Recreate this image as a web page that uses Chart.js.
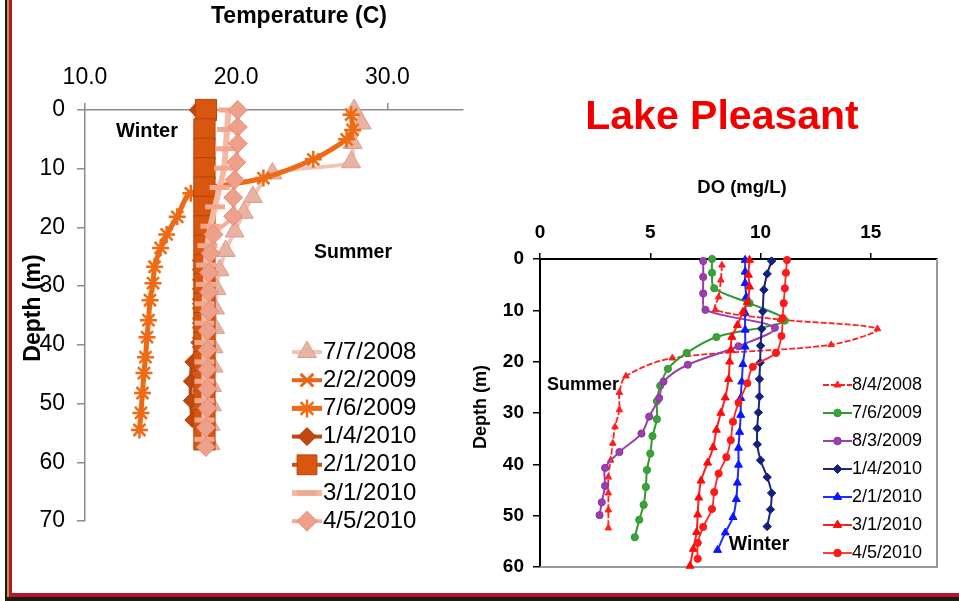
<!DOCTYPE html>
<html>
<head>
<meta charset="utf-8">
<title>Lake Pleasant profiles</title>
<script src="https://cdn.jsdelivr.net/npm/chart.js@4.4.1/dist/chart.umd.min.js"></script>
<style>
  html, body { margin: 0; padding: 0; background: #fff; }
  #page { position: relative; width: 959px; height: 601px; overflow: hidden; background: #fff; }
  #page canvas { position: absolute; left: 0; top: 0; }
  .edge { position: absolute; }
</style>
</head>
<body>
<div id="page">
  <canvas id="tempChart" width="959" height="601"></canvas>
  <canvas id="doChart" width="959" height="601"></canvas>
  <!-- slide frame -->
  <div class="edge" style="left:5px;top:0;width:2px;height:600px;background:#1d1a10;"></div>
  <div class="edge" style="left:7px;top:0;width:2px;height:597px;background:#b49a4a;"></div>
  <div class="edge" style="left:9px;top:0;width:3px;height:596px;background:#b8152f;"></div>
  <div class="edge" style="left:9px;top:593px;width:950px;height:4px;background:#b8152f;"></div>
  <div class="edge" style="left:5px;top:597px;width:954px;height:4px;background:#1d1a10;"></div>
</div>
<script>
// ---------- Temperature profiles (depth in m, temperature in C) ----------
const tempDates = ['7/7/2008', '2/2/2009', '7/6/2009', '1/4/2010', '2/1/2010', '3/1/2010', '4/5/2010'];

const tDepth_0708 = [0, 2.3, 5.6, 8.9, 10.8, 14.8, 17.5, 20.7, 24.0, 27.3, 30.5, 33.8, 37.1, 40.4, 43.7, 47.0, 50.3, 53.6, 56.9];
const tTemp_0708  = [27.8, 28.3, 27.7, 27.6, 22.4, 21.1, 20.5, 19.9, 19.3, 18.9, 18.7, 18.6, 18.6, 18.5, 18.5, 18.4, 18.4, 18.3, 18.3];

const tDepth_0209 = [0, 3.3, 6.6, 9.9, 13.2, 16.5, 19.8, 23.1, 26.4, 29.7, 33.0, 36.3, 39.6, 42.9, 46.2, 49.5, 52.8];
const tTemp_0209  = [17.6, 17.6, 17.6, 17.6, 17.6, 17.6, 17.6, 17.6, 17.5, 17.5, 17.5, 17.5, 17.5, 17.5, 17.5, 17.5, 17.5];

const tDepth_0709 = [0.8, 3.4, 5.0, 8.4, 11.6, 14.2, 18.2, 21.2, 23.5, 26.7, 29.5, 32.4, 35.8, 38.7, 42.1, 44.8, 48.2, 51.6, 54.5];
const tTemp_0709  = [27.6, 27.7, 27.3, 25.1, 21.8, 17.0, 16.1, 15.4, 15.0, 14.6, 14.5, 14.3, 14.2, 14.1, 14.0, 13.9, 13.8, 13.7, 13.6];

const tDepth_0110 = [0, 3.3, 6.6, 9.9, 13.2, 16.5, 19.8, 23.1, 26.4, 29.7, 33.0, 36.3, 39.6, 42.9, 46.2, 49.5, 52.8];
const tTemp_0110  = [17.4, 17.7, 17.7, 17.7, 17.7, 17.7, 17.7, 17.7, 17.7, 17.7, 17.6, 17.6, 17.5, 17.1, 17.0, 17.0, 17.1];

const tDepth_0210 = [0, 3.3, 6.6, 9.9, 13.2, 16.5, 19.8, 23.1, 26.4, 29.7, 33.0, 36.3, 39.6, 42.9, 46.2, 49.5, 52.8, 56.1];
const tTemp_0210  = [18.0, 17.9, 17.9, 17.9, 17.9, 17.9, 17.9, 17.9, 17.9, 17.9, 17.9, 17.9, 17.9, 17.9, 17.9, 17.9, 17.9, 17.9];

const tDepth_0310 = [0, 3.3, 6.6, 9.9, 13.2, 16.5, 19.8, 23.1, 26.4, 29.7, 33.0, 36.3, 39.6, 42.9, 46.2, 49.5, 52.8, 56.1];
const tTemp_0310  = [19.5, 19.4, 19.3, 19.2, 18.9, 18.6, 18.3, 18.1, 18.0, 18.0, 17.9, 17.9, 17.9, 17.9, 17.9, 17.9, 17.9, 17.9];

const tDepth_0410 = [0, 2.9, 5.7, 8.9, 11.9, 14.9, 18.1, 21.2, 24.4, 27.7, 31.0, 34.3, 37.6, 40.9, 44.2, 47.5, 50.8, 54.1, 57.4];
const tTemp_0410  = [20.1, 20.1, 20.1, 20.0, 19.9, 19.8, 19.8, 18.5, 18.3, 18.2, 18.2, 18.2, 18.1, 18.1, 18.1, 18.1, 18.1, 18.0, 18.0];

const tempTicks = [10, 20, 30];
const tempDepthTicks = [0, 10, 20, 30, 40, 50, 60, 70];

// ---------- Dissolved oxygen profiles (depth in m, DO in mg/L) ----------
const doDates = ['8/4/2008', '7/6/2009', '8/3/2009', '1/4/2010', '2/1/2010', '3/1/2010', '4/5/2010'];

const dDepth_0808 = [1.2, 4.1, 7.4, 9.9, 11.8, 13.6, 16.7, 19.3, 22.8, 26.0, 29.4, 32.7, 35.9, 39.2, 42.5, 45.6, 48.9, 52.4];
const dDO_0808    = [8.25, 8.2, 8.1, 7.95, 10.9, 15.3, 13.2, 6.0, 3.9, 3.6, 3.6, 3.4, 3.3, 3.2, 3.1, 3.1, 3.1, 3.1];

const dDepth_0709 = [0, 2.7, 5.7, 8.6, 12.0, 15.2, 18.3, 21.4, 24.7, 27.7, 31.2, 34.5, 37.9, 41.1, 44.4, 47.9, 50.8, 54.2];
const dDO_0709    = [7.8, 7.8, 7.9, 9.5, 11.1, 8.0, 6.65, 5.8, 5.45, 5.3, 5.3, 5.1, 5.0, 4.85, 4.8, 4.7, 4.5, 4.3];

const dDepth_0809 = [0.4, 3.5, 6.7, 9.9, 13.4, 17.0, 20.6, 23.9, 27.1, 30.7, 34.0, 37.6, 40.7, 44.2, 47.4, 49.9];
const dDO_0809    = [7.4, 7.4, 7.4, 7.5, 10.65, 9.0, 6.7, 5.6, 5.4, 4.95, 4.6, 3.6, 2.95, 2.95, 2.8, 2.7];

const dDepth_0110 = [0.4, 2.9, 6.0, 10.2, 13.6, 16.9, 20.2, 23.4, 26.8, 29.9, 33.0, 36.1, 39.2, 42.5, 45.6, 48.8, 52.1];
const dDO_0110    = [10.5, 10.3, 10.15, 10.1, 10.05, 10.0, 9.98, 9.95, 9.95, 9.9, 9.85, 9.85, 10.0, 10.3, 10.5, 10.45, 10.3];

const dDepth_0210 = [0.2, 2.5, 4.7, 7.4, 10.5, 13.8, 17.1, 20.5, 23.9, 27.1, 30.4, 33.7, 36.8, 40.1, 43.6, 46.8, 50.3, 53.3, 56.7];
const dDO_0210    = [9.3, 9.3, 9.3, 9.35, 9.3, 9.3, 9.3, 9.2, 9.15, 9.1, 9.1, 9.05, 9.0, 9.0, 8.95, 8.9, 8.75, 8.4, 8.05];

const dDepth_0310 = [0.2, 3.1, 5.4, 8.4, 10.3, 12.9, 15.2, 17.7, 20.0, 23.4, 27.0, 30.0, 33.3, 36.7, 39.7, 43.2, 46.5, 49.8, 53.2, 56.5, 59.8];
const dDO_0310    = [9.5, 9.45, 9.5, 9.4, 9.2, 8.95, 8.7, 8.65, 8.6, 8.55, 8.4, 8.2, 8.0, 7.85, 7.6, 7.3, 7.2, 7.15, 7.1, 6.95, 6.8];

const dDepth_0410 = [0.2, 2.7, 5.7, 8.6, 11.5, 15.0, 18.3, 21.0, 24.2, 28.0, 31.7, 35.3, 38.6, 41.8, 45.4, 48.7, 52.2, 55.3, 58.4];
const dDO_0410    = [11.2, 11.15, 11.1, 11.05, 11.0, 10.95, 10.7, 9.65, 9.4, 9.0, 8.75, 8.65, 8.45, 8.1, 7.9, 7.8, 7.4, 7.15, 7.15];

const doTicks = [0, 5, 10, 15];
const doDepthTicks = [0, 10, 20, 30, 40, 50, 60];

// ---------- helpers ----------
const FAMILY = '"Liberation Sans", Arial, Helvetica, sans-serif';
Chart.defaults.font.family = FAMILY;
Chart.defaults.color = '#000';

function profile(depths, values) {
  return depths.map((d, i) => ({ x: values[i], y: d }));
}

function buildDatasets(labels, profiles, styles, tension) {
  const n = labels.length;
  return labels.map((label, i) => {
    const s = styles[i];
    return {
      label: label,
      data: profile(profiles[i][0], profiles[i][1]),
      showLine: true,
      tension: tension,
      borderColor: s.line,
      borderWidth: s.lw,
      borderDash: s.dash || [],
      pointStyle: s.style,
      pointRadius: s.r,
      pointBackgroundColor: s.fill,
      pointBorderColor: s.edge,
      pointBorderWidth: s.pbw,
      legendRadius: s.lr || s.r,
      order: n - 1 - i,   // later dates are painted over earlier ones
      clip: false
    };
  });
}

// legend drawn beside the profiles, one row per dataset
const sideLegend = {
  id: 'sideLegend',
  afterDraw(chart, args, o) {
    if (!o || o.top === undefined) return;
    const ctx = chart.ctx;
    chart.data.datasets.forEach((ds, i) => {
      const y = o.top + i * o.rowGap;
      ctx.save();
      ctx.strokeStyle = ds.borderColor;
      ctx.lineWidth = ds.borderWidth;
      ctx.setLineDash(ds.borderDash || []);
      ctx.beginPath();
      ctx.moveTo(o.lineStart, y);
      ctx.lineTo(o.lineEnd, y);
      ctx.stroke();
      ctx.setLineDash([]);
      ctx.fillStyle = ds.pointBackgroundColor;
      ctx.strokeStyle = ds.pointBorderColor;
      ctx.lineWidth = ds.pointBorderWidth;
      Chart.helpers.drawPoint(ctx, {
        pointStyle: ds.pointStyle, radius: ds.legendRadius, rotation: 0, borderWidth: ds.pointBorderWidth
      }, (o.lineStart + o.lineEnd) / 2, y);
      ctx.fillStyle = '#000';
      ctx.font = o.font;
      ctx.textAlign = 'left';
      ctx.textBaseline = 'middle';
      ctx.fillText(ds.label, o.textX, y);
      ctx.restore();
    });
  }
};

// free text: axis captions, season notes and the lake name
const captions = {
  id: 'captions',
  afterDraw(chart, args, o) {
    if (!o || !o.items) return;
    const ctx = chart.ctx;
    o.items.forEach(t => {
      ctx.save();
      ctx.translate(t.x, t.y);
      if (t.rotate) ctx.rotate(t.rotate * Math.PI / 180);
      ctx.font = t.font;
      ctx.fillStyle = t.color || '#000';
      ctx.textAlign = 'center';
      ctx.textBaseline = 'middle';
      ctx.fillText(t.text, 0, 0);
      ctx.restore();
    });
  }
};

// right and bottom edges of the plot area
const plotFrame = {
  id: 'plotFrame',
  beforeDatasetsDraw(chart, args, o) {
    if (!o || !o.color) return;
    const a = chart.chartArea, ctx = chart.ctx;
    ctx.save();
    ctx.strokeStyle = o.color;
    ctx.lineWidth = o.width;
    ctx.beginPath();
    ctx.moveTo(a.right, a.top);
    ctx.lineTo(a.right, a.bottom);
    ctx.lineTo(a.left, a.bottom);
    ctx.stroke();
    ctx.restore();
  }
};

// ---------- temperature chart ----------
const tempStyles = [
  { line: '#f2c4b7', lw: 4,   style: 'triangle', r: 11,  fill: '#e9b3a4', edge: '#d99e8e', pbw: 1, lr: 11 },
  { line: '#e8661a', lw: 4,   style: 'crossRot', r: 8,   fill: '#e8661a', edge: '#e8661a', pbw: 3, lr: 9 },
  { line: '#ee6a14', lw: 5,   style: 'star',     r: 8.5, fill: '#ee6a14', edge: '#ee6a14', pbw: 2.5, lr: 9 },
  { line: '#c0490f', lw: 4,   style: 'rectRot',  r: 7.5, fill: '#c0480e', edge: '#a83c08', pbw: 1, lr: 9 },
  { line: '#d0500e', lw: 4,   style: 'rect',     r: 15,  fill: '#d9560f', edge: '#b8430a', pbw: 1, lr: 14 },
  { line: '#f7b8a4', lw: 6,   style: 'line',     r: 10,  fill: '#f2a78f', edge: '#f2a78f', pbw: 5, lr: 10 },
  { line: '#f3ad98', lw: 4,   style: 'rectRot',  r: 9.5, fill: '#eea08a', edge: '#e08d76', pbw: 1, lr: 10 }
];
const tempProfiles = [
  [tDepth_0708, tTemp_0708], [tDepth_0209, tTemp_0209], [tDepth_0709, tTemp_0709],
  [tDepth_0110, tTemp_0110], [tDepth_0210, tTemp_0210], [tDepth_0310, tTemp_0310], [tDepth_0410, tTemp_0410]
];

const grayAxis = '#8c8c8c';
new Chart(document.getElementById('tempChart'), {
  type: 'scatter',
  data: { datasets: buildDatasets(tempDates, tempProfiles, tempStyles, 0.3) },
  options: {
    responsive: false, animation: false, devicePixelRatio: 1,
    layout: { padding: { left: 0, top: 0, right: 959 - 463, bottom: 601 - 521 } },
    plugins: {
      legend: { display: false }, tooltip: { enabled: false },
      sideLegend: { top: 352, rowGap: 28.2, lineStart: 292, lineEnd: 322, textX: 323, font: '24px ' + FAMILY },
      captions: { items: [
        { text: 'Temperature (C)', x: 299, y: 17, font: 'bold 23px ' + FAMILY },
        { text: 'Depth (m)', x: 33.5, y: 308, rotate: -90, font: 'bold 23px ' + FAMILY },
        { text: 'Winter', x: 147, y: 131, font: 'bold 20px ' + FAMILY },
        { text: 'Summer', x: 353, y: 253, font: 'bold 19.5px ' + FAMILY }
      ] },
      plotFrame: false
    },
    scales: {
      x: {
        type: 'linear', position: 'top', min: 10, max: 35,
        afterBuildTicks: s => { s.ticks = tempTicks.map(v => ({ value: v })); },
        afterFit: s => { s.height = 110; },
        grid: { drawOnChartArea: false, drawTicks: true, tickLength: 7, color: grayAxis, lineWidth: 1.5 },
        border: { display: true, color: grayAxis, width: 1.5 },
        ticks: { padding: 12, font: { size: 23 }, color: '#000', maxRotation: 0, autoSkip: false,
                 callback: v => Number(v).toFixed(1) }
      },
      y: {
        type: 'linear', reverse: true, min: 0, max: 70,
        afterBuildTicks: s => { s.ticks = tempDepthTicks.map(v => ({ value: v })); },
        afterFit: s => { s.width = 85; },
        grid: { drawOnChartArea: false, drawTicks: true, tickLength: 8, color: grayAxis, lineWidth: 1.5 },
        border: { display: true, color: grayAxis, width: 1.5 },
        ticks: { padding: 12, font: { size: 23 }, color: '#000', autoSkip: false }
      }
    }
  },
  plugins: [sideLegend, captions, plotFrame]
});

// ---------- dissolved oxygen chart ----------
const doStyles = [
  { line: '#ff2222', lw: 1.8, dash: [6, 2], style: 'triangle', r: 3.8, fill: '#ff1f1f', edge: '#ff1f1f', pbw: 1, lr: 4 },
  { line: '#2f9a32', lw: 2,   style: 'circle',   r: 3.6, fill: '#3aa23a', edge: '#2f9a32', pbw: 1, lr: 3.8 },
  { line: '#9b3fae', lw: 2,   style: 'circle',   r: 3.6, fill: '#9b3fae', edge: '#8a35a0', pbw: 1, lr: 3.8 },
  { line: '#1c2484', lw: 2,   style: 'rectRot',  r: 4.2, fill: '#151f7e', edge: '#151f7e', pbw: 1, lr: 4.5 },
  { line: '#1f2cff', lw: 2,   style: 'triangle', r: 4.6, fill: '#0a16ff', edge: '#0a16ff', pbw: 1, lr: 4.8 },
  { line: '#ff1f1f', lw: 2,   style: 'triangle', r: 4.6, fill: '#ff0a0a', edge: '#ff0a0a', pbw: 1, lr: 4.8 },
  { line: '#ff2626', lw: 1.8, style: 'circle',   r: 3.6, fill: '#ff1a1a', edge: '#ff1a1a', pbw: 1, lr: 3.8 }
];
const doProfiles = [
  [dDepth_0808, dDO_0808], [dDepth_0709, dDO_0709], [dDepth_0809, dDO_0809],
  [dDepth_0110, dDO_0110], [dDepth_0210, dDO_0210], [dDepth_0310, dDO_0310], [dDepth_0410, dDO_0410]
];

new Chart(document.getElementById('doChart'), {
  type: 'scatter',
  data: { datasets: buildDatasets(doDates, doProfiles, doStyles, 0.3) },
  options: {
    responsive: false, animation: false, devicePixelRatio: 1,
    layout: { padding: { left: 0, top: 0, right: 959 - 937, bottom: 601 - 567 } },
    plugins: {
      legend: { display: false }, tooltip: { enabled: false },
      sideLegend: { top: 385, rowGap: 28, lineStart: 823, lineEnd: 852, textX: 852, font: '18px ' + FAMILY },
      captions: { items: [
        { text: 'Lake Pleasant', x: 722, y: 118, font: 'bold 41px ' + FAMILY, color: '#f20000' },
        { text: 'DO (mg/L)', x: 742, y: 188, font: 'bold 18.5px ' + FAMILY },
        { text: 'Depth (m)', x: 481.5, y: 407, rotate: -90, font: 'bold 18px ' + FAMILY },
        { text: 'Summer', x: 583, y: 385, font: 'bold 18px ' + FAMILY },
        { text: 'Winter', x: 759, y: 545, font: 'bold 19.5px ' + FAMILY }
      ] },
      plotFrame: { color: '#9a9a9a', width: 2 }
    },
    scales: {
      x: {
        type: 'linear', position: 'top', min: 0, max: 18,
        afterBuildTicks: s => { s.ticks = doTicks.map(v => ({ value: v })); },
        afterFit: s => { s.height = 259; },
        grid: { drawOnChartArea: false, drawTicks: true, tickLength: 6, color: '#000', lineWidth: 1.5 },
        border: { display: true, color: '#000', width: 2 },
        ticks: { padding: 9, font: { size: 19, weight: 'bold' }, color: '#000', maxRotation: 0, autoSkip: false }
      },
      y: {
        type: 'linear', reverse: true, min: 0, max: 60,
        afterBuildTicks: s => { s.ticks = doDepthTicks.map(v => ({ value: v })); },
        afterFit: s => { s.width = 540; },
        grid: { drawOnChartArea: false, drawTicks: true, tickLength: 7, color: '#000', lineWidth: 1.5 },
        border: { display: true, color: '#000', width: 2 },
        ticks: { padding: 9, font: { size: 19, weight: 'bold' }, color: '#000', autoSkip: false }
      }
    }
  },
  plugins: [sideLegend, captions, plotFrame]
});
</script>
</body>
</html>
